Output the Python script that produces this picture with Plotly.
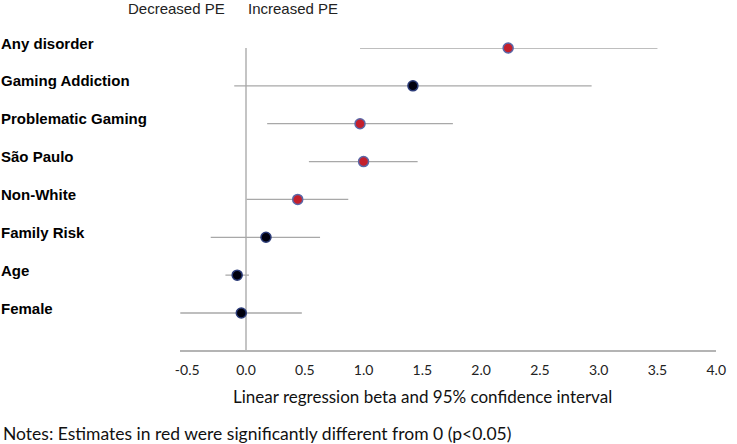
import plotly.graph_objects as go

categories = ["Any disorder", "Gaming Addiction", "Problematic Gaming", "São Paulo",
              "Non-White", "Family Risk", "Age", "Female"]
estimate = [2.23, 1.42, 0.97, 1.00, 0.44, 0.17, -0.075, -0.04]
ci_low = [0.97, -0.10, 0.18, 0.535, 0.005, -0.30, -0.175, -0.56]
ci_high = [3.50, 2.94, 1.76, 1.46, 0.87, 0.63, 0.025, 0.475]
significant = [True, False, True, True, True, False, False, False]
x_ticks = [-0.5, 0.0, 0.5, 1.0, 1.5, 2.0, 2.5, 3.0, 3.5, 4.0]
x_title = "Linear regression beta and 95% confidence interval"
note = "Notes: Estimates in red were significantly different from 0 (p<0.05)"
direction_labels = ["Decreased PE", "Increased PE"]

W, H = 737, 444
fig = go.Figure()

for sig, fill, edge in [(False, "#00000e", "#2b3b78"), (True, "#c4202c", "#5a68a8")]:
    idx = [i for i, s in enumerate(significant) if s == sig]
    fig.add_trace(go.Scatter(
        x=[estimate[i] for i in idx],
        y=[categories[i] for i in idx],
        mode="markers",
        marker=dict(size=10, color=fill, line=dict(color=edge, width=1.5)),
        error_x=dict(type="data", symmetric=False,
                     array=[ci_high[i] - estimate[i] for i in idx],
                     arrayminus=[estimate[i] - ci_low[i] for i in idx],
                     color="#a8a8a8", thickness=1.3, width=0),
        cliponaxis=False, showlegend=False, hoverinfo="skip"))

# pixel geometry
zero_px, px_per_unit = 246, 120
xr = [-0.56, 4.0]
x0px = zero_px + xr[0] * px_per_unit
x1px = zero_px + xr[1] * px_per_unit
top_px, bot_px = 48, 350
row_sp = (313 - 48) / 7

fig.update_layout(
    width=W, height=H, autosize=False,
    margin=dict(l=0, r=0, t=0, b=0),
    plot_bgcolor="white", paper_bgcolor="white",
    xaxis=dict(domain=[x0px / W, x1px / W], range=xr, tickvals=x_ticks,
               ticktext=[f"{v:.1f}" for v in x_ticks],
               showgrid=False, zeroline=True, zerolinecolor="#c4c4c4", zerolinewidth=2,
               showline=True, linecolor="#b4b4b4", linewidth=1.5,
               ticks="", tickfont=dict(family="Lato", size=14, color="#222222"),
               ticklabelstandoff=6),
    yaxis=dict(domain=[(H - bot_px) / H, (H - top_px) / H],
               categoryorder="array", categoryarray=categories,
               range=[7 + (bot_px - 313) / row_sp, 0],
               showticklabels=False, showgrid=False, zeroline=False, showline=False,
               ticks=""),
)

# category labels, left aligned at the figure edge
for i, c in enumerate(categories):
    fig.add_annotation(x=-6 / W, xref="paper", xanchor="left",
                       y=c, yref="y", yanchor="middle", yshift=5,
                       text=f"<b>{c}</b>", showarrow=False,
                       font=dict(family="Liberation Sans", size=15, color="#000000"))

# direction labels
for txt, xc in zip(direction_labels, [175, 294]):
    fig.add_annotation(x=xc / W, xref="paper", xanchor="center",
                       y=1 - 8 / H, yref="paper", yanchor="middle",
                       text=txt, showarrow=False,
                       font=dict(family="Liberation Sans", size=15, color="#222222"))

fig.add_annotation(x=426 / W, xref="paper", xanchor="center",
                   y=1 - 396 / H, yref="paper", yanchor="middle",
                   text=x_title, showarrow=False,
                   font=dict(family="Lato", size=17, color="#111111"))
fig.add_annotation(x=-4 / W, xref="paper", xanchor="left",
                   y=1 - 433 / H, yref="paper", yanchor="middle",
                   text=note, showarrow=False,
                   font=dict(family="Lato", size=17.5, color="#111111"))

fig.write_html("out.html", config={"displayModeBar": False},
               post_script="document.body.style.margin='0px';")
